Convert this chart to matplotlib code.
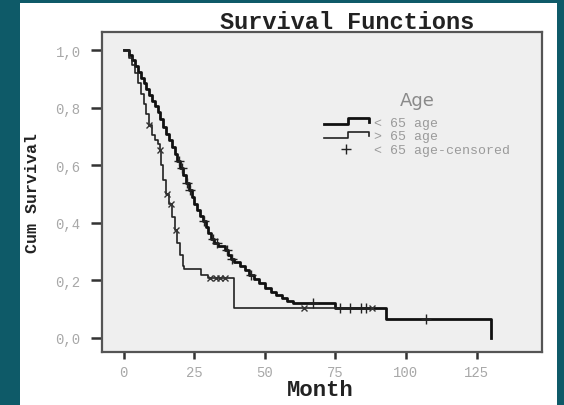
import matplotlib
matplotlib.use("Agg")
import matplotlib.pyplot as plt
from matplotlib.legend_handler import HandlerBase
from matplotlib.lines import Line2D
from matplotlib.patches import Rectangle
import numpy as np

# Kaplan-Meier estimates (months, cum survival)
young_t = [0, 2, 3, 4, 5, 6, 7, 8, 9, 10, 11, 12, 13, 14, 15, 16, 17, 18, 19, 20,
           21, 22, 23, 24, 25, 26, 27, 28, 29, 30, 31, 32, 33.5, 36, 37, 38, 39, 41,
           43, 44.5, 46, 48, 50, 52, 54, 56, 58, 60, 75, 93, 130]
young_s = [1.0, 0.985, 0.965, 0.945, 0.925, 0.905, 0.885, 0.865, 0.845, 0.825, 0.805,
           0.785, 0.76, 0.735, 0.71, 0.69, 0.665, 0.64, 0.615, 0.59, 0.565, 0.54, 0.515,
           0.49, 0.465, 0.445, 0.425, 0.405, 0.385, 0.365, 0.345, 0.33, 0.32, 0.305,
           0.29, 0.275, 0.265, 0.25, 0.235, 0.22, 0.205, 0.19, 0.175, 0.16, 0.15, 0.14,
           0.13, 0.12, 0.105, 0.065, 0.0]
young_cens = [19.5, 20.5, 22.5, 23.5, 28.5, 31.5, 33, 36.5, 38.5, 45, 67, 76.5, 80,
              84, 86, 107]

old_t = [0, 2, 3, 4, 5, 6, 7, 8, 9, 10, 11, 12, 12.8, 13.3, 13.9, 15, 16, 17, 18,
         19, 20, 21, 21.5, 27.5, 30, 39, 88]
old_s = [1.0, 0.975, 0.95, 0.92, 0.885, 0.85, 0.815, 0.78, 0.74, 0.705, 0.69, 0.675,
         0.655, 0.6, 0.55, 0.5, 0.465, 0.42, 0.375, 0.33, 0.29, 0.25, 0.24, 0.22,
         0.21, 0.105, 0.105]
old_cens = [9, 12.9, 15.3, 16.6, 18.5, 30.5, 32.5, 34, 36, 64, 88]

x_ticks = [0, 25, 50, 75, 100, 125]
y_ticks = [0.0, 0.2, 0.4, 0.6, 0.8, 1.0]
y_tick_labels = ["0,0", "0,2", "0,4", "0,6", "0,8", "1,0"]
legend_labels = ["< 65 age", "> 65 age", "< 65 age-censored"]


def surv_at(times, surv, t):
    i = np.searchsorted(times, t, side="right") - 1
    return np.array(surv)[i]


class StepHandler(HandlerBase):
    def create_artists(self, legend, orig_handle, xdescent, ydescent, width,
                       height, fontsize, trans):
        xs = np.array([0, 0.55, 0.55, 1.0, 1.0]) * width - xdescent
        ys = np.array([0.15, 0.15, 0.85, 0.85, 0.4]) * height - ydescent
        ln = Line2D(xs, ys, color=orig_handle.get_color(),
                    lw=orig_handle.get_linewidth(), transform=trans)
        return [ln]


mono = "Liberation Mono"
fig = plt.figure(figsize=(5.64, 4.06), dpi=100, facecolor="#0e5a68")
fig.patches.append(Rectangle((20 / 564, 0), 537 / 564, 402 / 406,
                             transform=fig.transFigure, facecolor="white",
                             edgecolor="none", zorder=-5))
ax = fig.add_axes([0.180, 0.1305, 0.7805, 0.7882])
ax.set_facecolor("#efefef")

l1, = ax.step(young_t, young_s, where="post", color="#111111", lw=2.0)
l2, = ax.step(old_t, old_s, where="post", color="#222222", lw=1.2)
c1, = ax.plot(young_cens, surv_at(young_t, young_s, young_cens), ls="none",
              marker="+", ms=7, mew=1.0, color="#222222")
ax.plot(old_cens, surv_at(old_t, old_s, old_cens), ls="none",
        marker="x", ms=5, mew=1.0, color="#333333")

ax.set_xlim(-7.9, 148.1)
ax.set_ylim(-0.049, 1.064)
ax.set_xticks(x_ticks)
ax.set_xticklabels([str(v) for v in x_ticks])
ax.set_yticks(y_ticks)
ax.set_yticklabels(y_tick_labels)
ax.tick_params(axis="both", direction="out", width=1.8, color="#333333",
               labelcolor="#a8a8a8", labelsize=10)
ax.tick_params(axis="y", length=8, pad=7)
ax.tick_params(axis="x", length=5, pad=4)
for lab in ax.get_xticklabels() + ax.get_yticklabels():
    lab.set_fontfamily(mono)
for sp in ax.spines.values():
    sp.set_color("#555555")
    sp.set_linewidth(1.6)

ax.set_title("Survival Functions", fontfamily=mono, fontweight="bold",
             fontsize=17, color="#222222", x=0.557, y=1.014, pad=0)
ax.set_xlabel("Month", fontfamily=mono, fontweight="bold", fontsize=16,
              color="#222222")
ax.xaxis.set_label_coords(0.496, -0.085)
ax.set_ylabel("Cum Survival", fontfamily=mono, fontweight="bold", fontsize=12,
              color="#222222")
ax.yaxis.set_label_coords(-0.14, 0.5)

leg = ax.legend([l1, l2, c1], legend_labels, handler_map={l1: StepHandler(),
                l2: StepHandler()}, title="Age", loc="upper left",
                bbox_to_anchor=(0.49, 0.835), frameon=False, borderpad=0,
                prop={"family": mono, "size": 9.5}, title_fontsize=13,
                labelcolor="#9a9a9a", handlelength=3.4, handletextpad=0.4,
                labelspacing=0.12)
leg.get_title().set_color("#8a8a8a")
leg.get_title().set_fontfamily("DejaVu Sans")
leg._legend_box.sep = 5

fig.savefig("out.png", dpi=100, facecolor=fig.get_facecolor())
